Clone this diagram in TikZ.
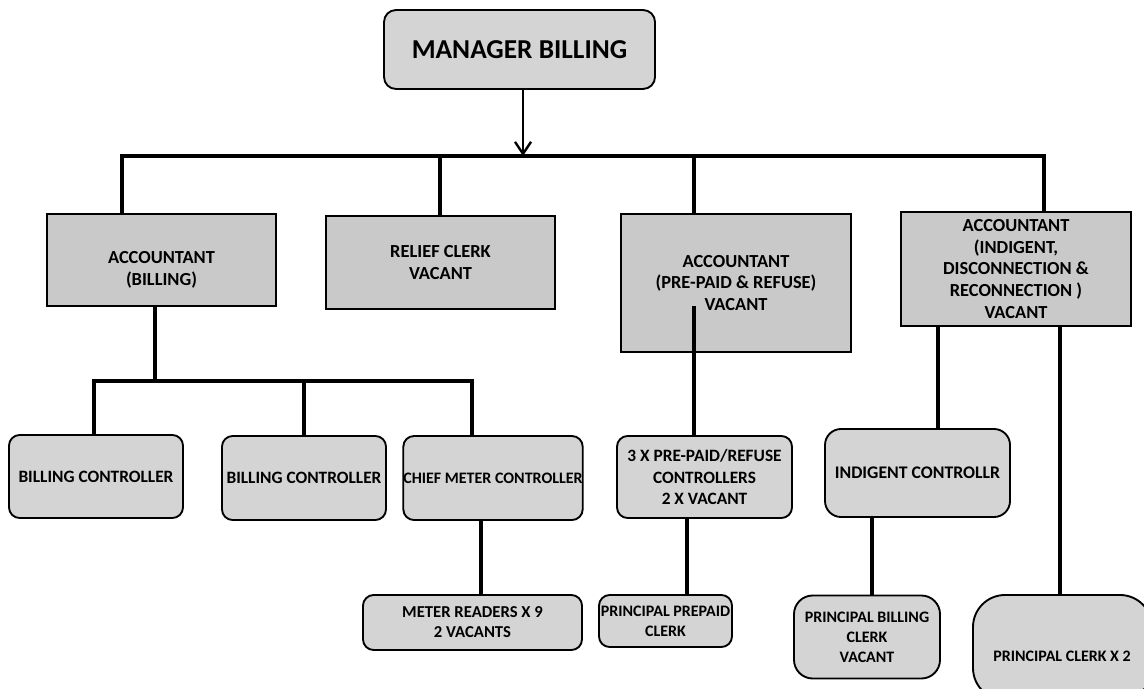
\documentclass[tikz,border=0pt]{standalone}
\usepackage{fontspec}
\setmainfont{Carlito}
\usetikzlibrary{arrows.meta}

\definecolor{sqfill}{gray}{0.79}
\definecolor{rdfill}{gray}{0.83}

\tikzset{
  box/.style={draw=black, line width=1.4pt, inner sep=0pt, align=center,
              font=\bfseries\fontsize{13}{16}\selectfont},
  wh/.style 2 args={minimum width=#1*0.75pt, minimum height=#2*0.75pt},
  sq/.style={box, fill=sqfill, font=\bfseries\fontsize{13.8}{16.3}\selectfont},
  rd/.style={box, fill=rdfill, rounded corners=8pt},
  small/.style={font=\bfseries\fontsize{12}{15}\selectfont},
  conn/.style={line width=2.7pt, line cap=rect},
  head/.style={line width=1.8pt, -{Straight Barb[length=9pt,width=12pt,line width=1.8pt]}}
}

\begin{document}
\begin{tikzpicture}[x=0.75pt, y=-0.75pt]
\useasboundingbox (0,0) rectangle (1144,688);
\clip (0,0) rectangle (1144,688);

% top of the chart
\node[rd, wh={271}{79}, rounded corners=9pt,
      font=\bfseries\fontsize{20.5}{24}\selectfont] (mgr) at (519.5,49.5) {MANAGER BILLING};

% second level
\node[sq, wh={229}{92}] (accb) at (161.5,260) {};
\node[font=\bfseries\fontsize{13.8}{16.3}\selectfont, align=center] (accbtxt) at (161.5,270) {ACCOUNTANT\\(BILLING)};
\node[sq, wh={229}{93}] (relief) at (440.5,262.5) {RELIEF CLERK\\VACANT};
\node[sq, wh={230}{138}] (accp) at (736,283) {ACCOUNTANT\\(PRE-PAID \& REFUSE)\\VACANT};
\node[sq, wh={230}{114}] (acci) at (1016,269) {ACCOUNTANT\\(INDIGENT,\\DISCONNECTION \&\\RECONNECTION )\\VACANT};

% third level
\node[rd, wh={174}{83}] (bc1) at (96,476.5) {BILLING CONTROLLER};
\node[rd, wh={164}{84}] (bc2) at (304,478) {BILLING CONTROLLER};
\node[rd, wh={178}{84}, font=\bfseries\fontsize{12}{15}\selectfont] (cmc) at (493,478) {CHIEF METER CONTROLLER};
\node[rd, wh={175}{82}] (ppc) at (704.5,477) {3 X PRE-PAID/REFUSE\\CONTROLLERS\\2 X VACANT};
\node[rd, wh={185}{88}, rounded corners=12pt, font=\bfseries\fontsize{13.3}{16}\selectfont] (indc) at (917.5,473) {INDIGENT CONTROLLR};

% bottom level
\node[rd, wh={219}{55}, font=\bfseries\fontsize{12.5}{15}\selectfont] (mr) at (472.5,622.5) {METER READERS X 9\\2 VACANTS};
\node[rd, small, wh={133}{52}] (ppclerk) at (665.5,621) {PRINCIPAL PREPAID\\CLERK};
\node[rd, small, wh={146}{83}, rounded corners=14pt] (pbc) at (867,637) {PRINCIPAL BILLING\\CLERK\\VACANT};
\node[rd, small, wh={179}{105}, rounded corners=24pt] (pc2) at (1062.5,647.5) {};
\node[small] (pc2txt) at (1062,656) {PRINCIPAL CLERK X 2};

% junction points of the connectors
\coordinate (busL) at (122,156);
\coordinate (busR) at (1044,156);
\coordinate (jr) at (440,156);
\coordinate (jp) at (694,156);
\coordinate (jm) at (523,156);
\coordinate (sbL) at (94,381);
\coordinate (sbR) at (472,381);
\coordinate (sbM) at (304,381);
\coordinate (sbT) at (155,381);
\coordinate (xmr) at (481,560);
\coordinate (xpp) at (687,560);
\coordinate (xpin) at (694,308);
\coordinate (xic) at (938,400);
\coordinate (xpb) at (872,560);
\coordinate (xpc) at (1060,400);

% manager to the main bus
\draw[head] (mgr.south -| jm) -- (jm);
\draw[conn] (busL |- accb.north) -- (busL) -- (busR) -- (busR |- acci.north);
\draw[conn] (jr) -- (jr |- relief.north);
\draw[conn] (jp) -- (jp |- accp.north);

% billing branch
\draw[conn] (sbT |- accb.south) -- (sbT);
\draw[conn] (sbL |- bc1.north) -- (sbL) -- (sbR) -- (sbR |- cmc.north);
\draw[conn] (sbM) -- (sbM |- bc2.north);
\draw[conn] (xmr |- cmc.south) -- (xmr |- mr.north);

% pre-paid branch
\draw[conn] (xpin) -- (xpin |- ppc.north);
\draw[conn] (xpp |- ppc.south) -- (xpp |- ppclerk.north);

% indigent branch
\draw[conn] (xic |- acci.south) -- (xic |- indc.north);
\draw[conn] (xpb |- indc.south) -- (xpb |- pbc.north);
\draw[conn] (xpc |- acci.south) -- (xpc |- pc2.north);
\end{tikzpicture}
\end{document}
